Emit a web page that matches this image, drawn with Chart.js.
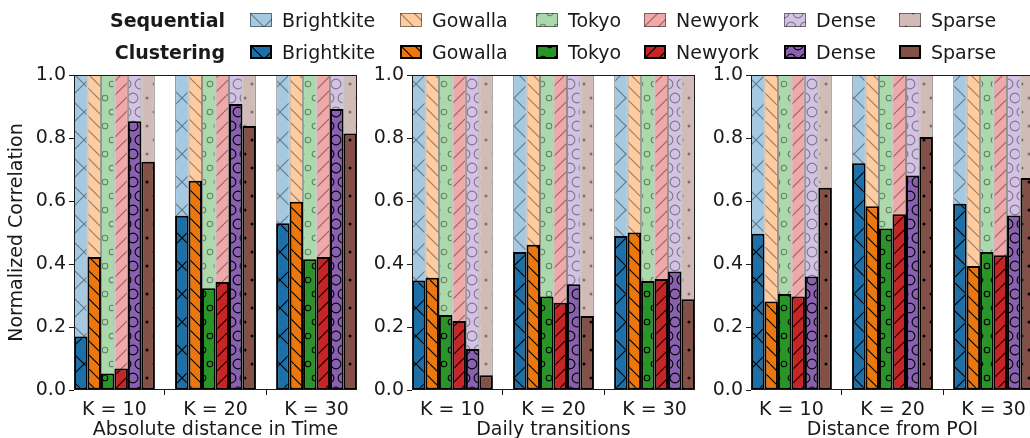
<!DOCTYPE html>
<html>
<head>
<meta charset="utf-8">
<script src="https://cdn.jsdelivr.net/npm/chart.js@4.4.1/dist/chart.umd.min.js"></script>
<style>
  body { margin: 0; background: #fff; }
  #wrap { position: relative; width: 1030px; height: 438px; overflow: hidden; background: #fff;
          font-family: 'DejaVu Sans', sans-serif; color: #1a1a1a; }
  canvas.panel { position: absolute; top: 0; }
  .lg { position: absolute; font-size: 19px; line-height: 22px; white-space: nowrap; }
  .head { font-weight: bold; text-align: right; width: 225px; left: 0; }
  canvas.sw { position: absolute; }
</style>
</head>
<body>
<div id="wrap">
  <canvas id="c0" class="panel" width="358" height="438" style="left:0px"></canvas>
  <canvas id="c1" class="panel" width="336" height="438" style="left:360px"></canvas>
  <canvas id="c2" class="panel" width="335" height="438" style="left:700px"></canvas>
</div>
<script>
var groups = ['K = 10', 'K = 20', 'K = 30'];
var cities = ['Brightkite', 'Gowalla', 'Tokyo', 'Newyork', 'Dense', 'Sparse'];
var titles = ['Absolute distance in Time', 'Daily transitions', 'Distance from POI'];
var yTicks = [0, 0.2, 0.4, 0.6, 0.8, 1.0];

// one row per city, one value per K (10, 20, 30)
var seqTime  = [[1, 1, 1], [1, 1, 1], [1, 1, 1], [1, 1, 1], [1, 1, 1], [1, 1, 1]];
var cluTime  = [[0.170, 0.553, 0.529], [0.422, 0.664, 0.598], [0.052, 0.323, 0.415],
                [0.068, 0.343, 0.422], [0.853, 0.908, 0.892], [0.725, 0.838, 0.814]];
var seqDaily = [[1, 1, 1], [1, 1, 1], [1, 1, 1], [1, 1, 1], [1, 1, 1], [1, 1, 1]];
var cluDaily = [[0.348, 0.438, 0.489], [0.356, 0.461, 0.500], [0.238, 0.297, 0.346],
                [0.219, 0.277, 0.352], [0.130, 0.336, 0.376], [0.047, 0.235, 0.288]];
var seqPoi   = [[1, 1, 1], [1, 1, 1], [1, 1, 1], [1, 1, 1], [1, 1, 1], [1, 1, 1]];
var cluPoi   = [[0.496, 0.720, 0.591], [0.281, 0.583, 0.394], [0.305, 0.513, 0.438],
                [0.297, 0.558, 0.428], [0.360, 0.681, 0.554], [0.642, 0.803, 0.673]];

var colors  = ['#1f77b4', '#ff7f0e', '#2ca02c', '#d62728', '#9467bd', '#8c564b'];
var hatches = ['x', '\\', 'o', '/', 'O', '.'];

Chart.defaults.font.family = "'DejaVu Sans', sans-serif";
Chart.defaults.font.size = 19;
Chart.defaults.color = '#1a1a1a';

// a < 1 mixes with white, k < 1 darkens a bit
function shade(hex, a, k) {
  var n = parseInt(hex.slice(1), 16);
  var r = n >> 16, g = (n >> 8) & 255, b = n & 255;
  var f = function(c){ return Math.round((255 - a * (255 - c)) * k); };
  return 'rgb(' + f(r) + ',' + f(g) + ',' + f(b) + ')';
}

// small tile with a matplotlib-like hatch on top of the fill colour
function hatchTile(fill, hatch, ink) {
  var S = 28;
  var c = document.createElement('canvas');
  c.width = S; c.height = S;
  var g = c.getContext('2d');
  g.fillStyle = fill;
  g.fillRect(0, 0, S, S);
  g.strokeStyle = ink; g.fillStyle = ink; g.lineWidth = 1.1;
  if (hatch == 'x' || hatch == '/' || hatch == '\\') {
    var step = hatch == 'x' ? S : S / 2;
    g.beginPath();
    for (var k = -S; k <= S; k += step) {
      if (hatch != '\\') { g.moveTo(k, S); g.lineTo(k + S, 0); }
      if (hatch != '/')  { g.moveTo(k, 0); g.lineTo(k + S, S); }
    }
    g.stroke();
  } else {
    var r = hatch == 'o' ? 2.8 : (hatch == 'O' ? 4.9 : 1.5);
    var h = S / 2;
    for (var y = 0; y <= S; y += h) {
      var odd = (y / h) % 2 == 1;
      for (var x = odd ? h / 2 : 0; x <= S; x += h) {
        g.beginPath();
        g.arc(x, y, r, 0, 2 * Math.PI);
        if (hatch == '.') g.fill(); else g.stroke();
      }
    }
  }
  return c;
}

function darkTile(i)  { return hatchTile(shade(colors[i], 1, 0.93), hatches[i], '#000'); }
function lightTile(i) { return hatchTile(shade(colors[i], 0.4, 1), hatches[i], 'rgba(0,0,0,0.4)'); }

function makeDatasets(ctx, seq, clu) {
  var ds = [];
  cities.forEach(function(name, i) {
    ds.push({
      label: 'Clustering ' + name, stack: name, order: 0,
      data: clu[i].map(function(v, k){ return { x: k, y: v }; }),
      backgroundColor: ctx.createPattern(darkTile(i), 'repeat'),
      borderColor: '#000', borderWidth: 2
    });
  });
  cities.forEach(function(name, i) {
    ds.push({
      label: 'Sequential ' + name, stack: name, order: 1,
      data: seq[i].map(function(v, k){ return { x: k, y: v }; }),
      backgroundColor: ctx.createPattern(lightTile(i), 'repeat'),
      borderColor: 'rgba(0,0,0,0.45)', borderWidth: 1
    });
  });
  return ds;
}

var frame = {
  id: 'frame',
  afterDatasetsDraw: function(chart) {
    var a = chart.chartArea, g = chart.ctx;
    g.save();
    g.strokeStyle = '#1a1a1a';
    g.lineWidth = 1;
    g.strokeRect(a.left + 0.5, a.top + 0.5, a.right - a.left - 1, a.bottom - a.top - 1);
    g.restore();
  }
};

var panels = [[seqTime, cluTime], [seqDaily, cluDaily], [seqPoi, cluPoi]];
var axisWidth = [74, 52, 51];

panels.forEach(function(pd, p) {
  var ctx = document.getElementById('c' + p).getContext('2d');
  new Chart(ctx, {
    type: 'bar',
    data: { datasets: makeDatasets(ctx, pd[0], pd[1]) },
    options: {
      responsive: false,
      animation: false,
      events: [],
      datasets: { bar: { categoryPercentage: 0.8, barPercentage: 1.0, borderSkipped: false } },
      layout: { padding: { top: 75, right: 1, left: 0, bottom: 0 } },
      plugins: { legend: { display: false }, tooltip: { enabled: false } },
      scales: {
        x: {
          type: 'linear', min: -0.4, max: 2.4, offset: false, stacked: true,
          afterBuildTicks: function(s){ s.ticks = groups.map(function(g, i){ return { value: i }; }); },
          ticks: { autoSkip: false, maxRotation: 0, padding: 4,
                   callback: function(v){ return groups[v]; } },
          grid: { drawOnChartArea: false, tickLength: 5, tickColor: '#1a1a1a' },
          border: { display: false },
          title: { display: true, text: titles[p], font: { lineHeight: 0.8 },
                   padding: { top: 0, bottom: 0 } },
          afterFit: function(s){ s.height = 48; }
        },
        y: {
          min: 0, max: 1, stacked: false,
          afterBuildTicks: function(s){ s.ticks = yTicks.map(function(v){ return { value: v }; }); },
          ticks: { padding: 3, callback: function(v){ return v.toFixed(1); } },
          grid: { drawOnChartArea: false, tickLength: 5, tickColor: '#1a1a1a' },
          border: { display: false },
          title: { display: p == 0, text: 'Normalized Correlation', padding: { top: 6, bottom: 0 } },
          afterFit: function(s){ s.width = axisWidth[p]; }
        }
      }
    },
    plugins: [frame]
  });
});

// legend: two rows, light sequential bars above dark clustering bars
var wrap = document.getElementById('wrap');
var swatchX = [250, 400, 536, 644, 784, 899];
var rows = [
  { name: 'Sequential', y: 20, light: true },
  { name: 'Clustering', y: 52, light: false }
];
rows.forEach(function(row) {
  var head = document.createElement('div');
  head.className = 'lg head';
  head.style.top = (row.y - 11) + 'px';
  head.textContent = row.name;
  wrap.appendChild(head);
  cities.forEach(function(name, i) {
    var sw = document.createElement('canvas');
    sw.className = 'sw';
    sw.width = 22; sw.height = 14;
    sw.style.left = swatchX[i] + 'px';
    sw.style.top = (row.y - 7) + 'px';
    var g = sw.getContext('2d');
    g.fillStyle = g.createPattern(row.light ? lightTile(i) : darkTile(i), 'repeat');
    g.fillRect(0, 0, 22, 14);
    g.strokeStyle = row.light ? 'rgba(0,0,0,0.45)' : '#000';
    g.lineWidth = row.light ? 1 : 2;
    if (row.light) g.strokeRect(0.5, 0.5, 21, 13);
    else g.strokeRect(1, 1, 20, 12);
    wrap.appendChild(sw);
    var t = document.createElement('div');
    t.className = 'lg';
    t.style.left = (swatchX[i] + 32) + 'px';
    t.style.top = (row.y - 11) + 'px';
    t.textContent = name;
    wrap.appendChild(t);
  });
});
</script>
</body>
</html>
